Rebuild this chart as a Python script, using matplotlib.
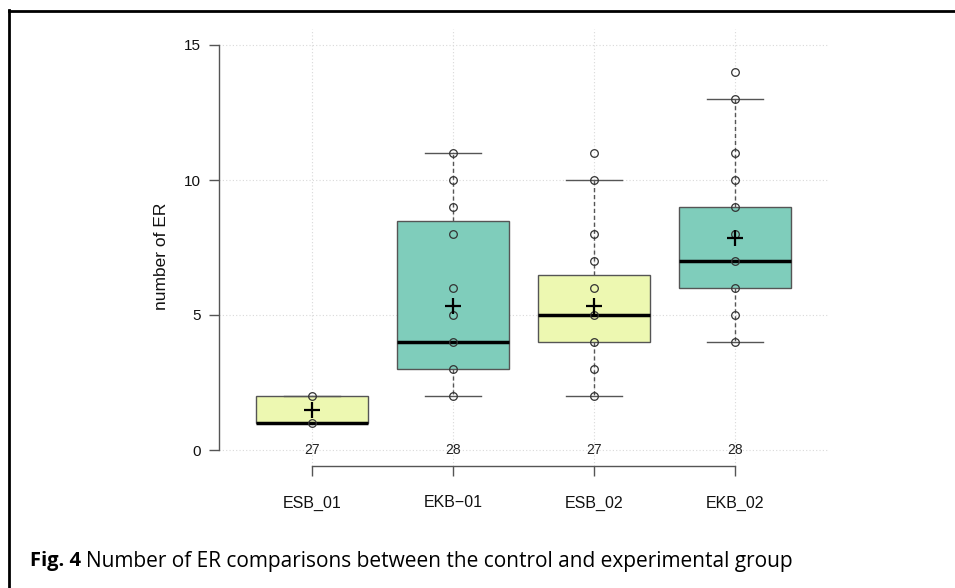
import matplotlib
matplotlib.use('Agg')
import matplotlib.pyplot as plt
import numpy as np

# groups and box statistics
groups = ['ESB_01', 'EKB\u221201', 'ESB_02', 'EKB_02']
counts = [27, 28, 27, 28]
q1 = [1, 3, 4, 6]
medians = [1, 4, 5, 7]
q3 = [2, 8.5, 6.5, 9]
whisk_lo = [1, 2, 2, 4]
whisk_hi = [2, 11, 10, 13]
means = [1.48, 5.33, 5.33, 7.85]

# distinct observed values shown as circles
points = [
    [1, 2],
    [2, 3, 4, 5, 6, 8, 9, 10, 11],
    [2, 3, 4, 5, 6, 7, 8, 10, 11],
    [4, 5, 6, 7, 8, 9, 10, 11, 13, 14],
]
colours = ['#EDF8B1', '#7FCDBB', '#EDF8B1', '#7FCDBB']

plt.rcParams['font.family'] = ['Liberation Sans', 'DejaVu Sans']

fig = plt.figure(figsize=(9.55, 5.88), dpi=100)
ax = fig.add_axes([219/955, 1 - 466.2/588, 609/955, 437.4/588])

pos = np.arange(1, len(groups) + 1)

# grid
for p in pos:
    ax.axvline(p, color='#d9d9d9', lw=0.8, ls=(0, (1, 2)), zorder=0)
for y in [0, 5, 10, 15]:
    ax.axhline(y, color='#d9d9d9', lw=0.8, ls=(0, (1, 2)), zorder=0)

stats = []
for i in range(len(groups)):
    stats.append({'med': medians[i], 'q1': q1[i], 'q3': q3[i],
                  'whislo': whisk_lo[i], 'whishi': whisk_hi[i],
                  'mean': means[i], 'fliers': []})

bp = ax.bxp(stats, positions=pos, widths=0.8, capwidths=0.4,
            patch_artist=True, showfliers=False, showmeans=False,
            boxprops=dict(edgecolor='#555555', lw=1.0),
            medianprops=dict(color='black', lw=2.5, solid_capstyle='butt'),
            whiskerprops=dict(color='#555555', lw=1.0, ls=(0, (3, 2))),
            capprops=dict(color='#555555', lw=1.0))
for patch, c in zip(bp['boxes'], colours):
    patch.set_facecolor(c)

for i, vals in enumerate(points):
    ax.plot([pos[i]] * len(vals), vals, 'o', mfc='none', mec='#333333',
            ms=5.5, mew=0.9, zorder=4)

ax.plot(pos, means, '+', color='black', ms=12, mew=1.6, zorder=5)

for i, n in enumerate(counts):
    ax.text(pos[i], 0, str(n), ha='center', va='center', fontsize=10,
            color='#222222', zorder=6)

ax.set_xlim(0.34, 4.66)
ax.set_ylim(-0.6, 15.6)
for s in ['top', 'right']:
    ax.spines[s].set_visible(False)
ax.spines['left'].set_bounds(0, 15)
ax.spines['bottom'].set_bounds(1, 4)
for s in ['left', 'bottom']:
    ax.spines[s].set_color('#555555')
    ax.spines[s].set_linewidth(1.0)
ax.set_yticks([0, 5, 10, 15])
ax.set_xticks(pos)
ax.set_xticklabels(groups)
ax.tick_params(axis='both', colors='#555555', length=7, width=1.0,
               labelsize=11, labelcolor='#111111')
ax.tick_params(axis='x', pad=14, labelsize=11.5)
ax.tick_params(axis='y', pad=6)

fig.text(161/955, 1 - 256/588, 'number of ER', rotation=90, ha='center',
         va='center', fontsize=12.5, color='#111111')

# outer frame
fig.add_artist(plt.Line2D([9/955, 9/955], [0, 1 - 10/588], color='black',
                          lw=2, transform=fig.transFigure))
fig.add_artist(plt.Line2D([9/955, 1], [1 - 11/588, 1 - 11/588], color='black',
                          lw=2, transform=fig.transFigure))

# caption
t1 = fig.text(30/955, 1 - 561/588, 'Fig. 4', fontsize=14.5, fontweight='bold',
              family='Open Sans', va='center', ha='left')
fig.canvas.draw()
bb = t1.get_window_extent()
fig.text((bb.x1 + 5)/955, 1 - 561/588,
         'Number of ER comparisons between the control and experimental group',
         fontsize=15, family='Open Sans', va='center', ha='left')

fig.savefig('out.png', dpi=100)
